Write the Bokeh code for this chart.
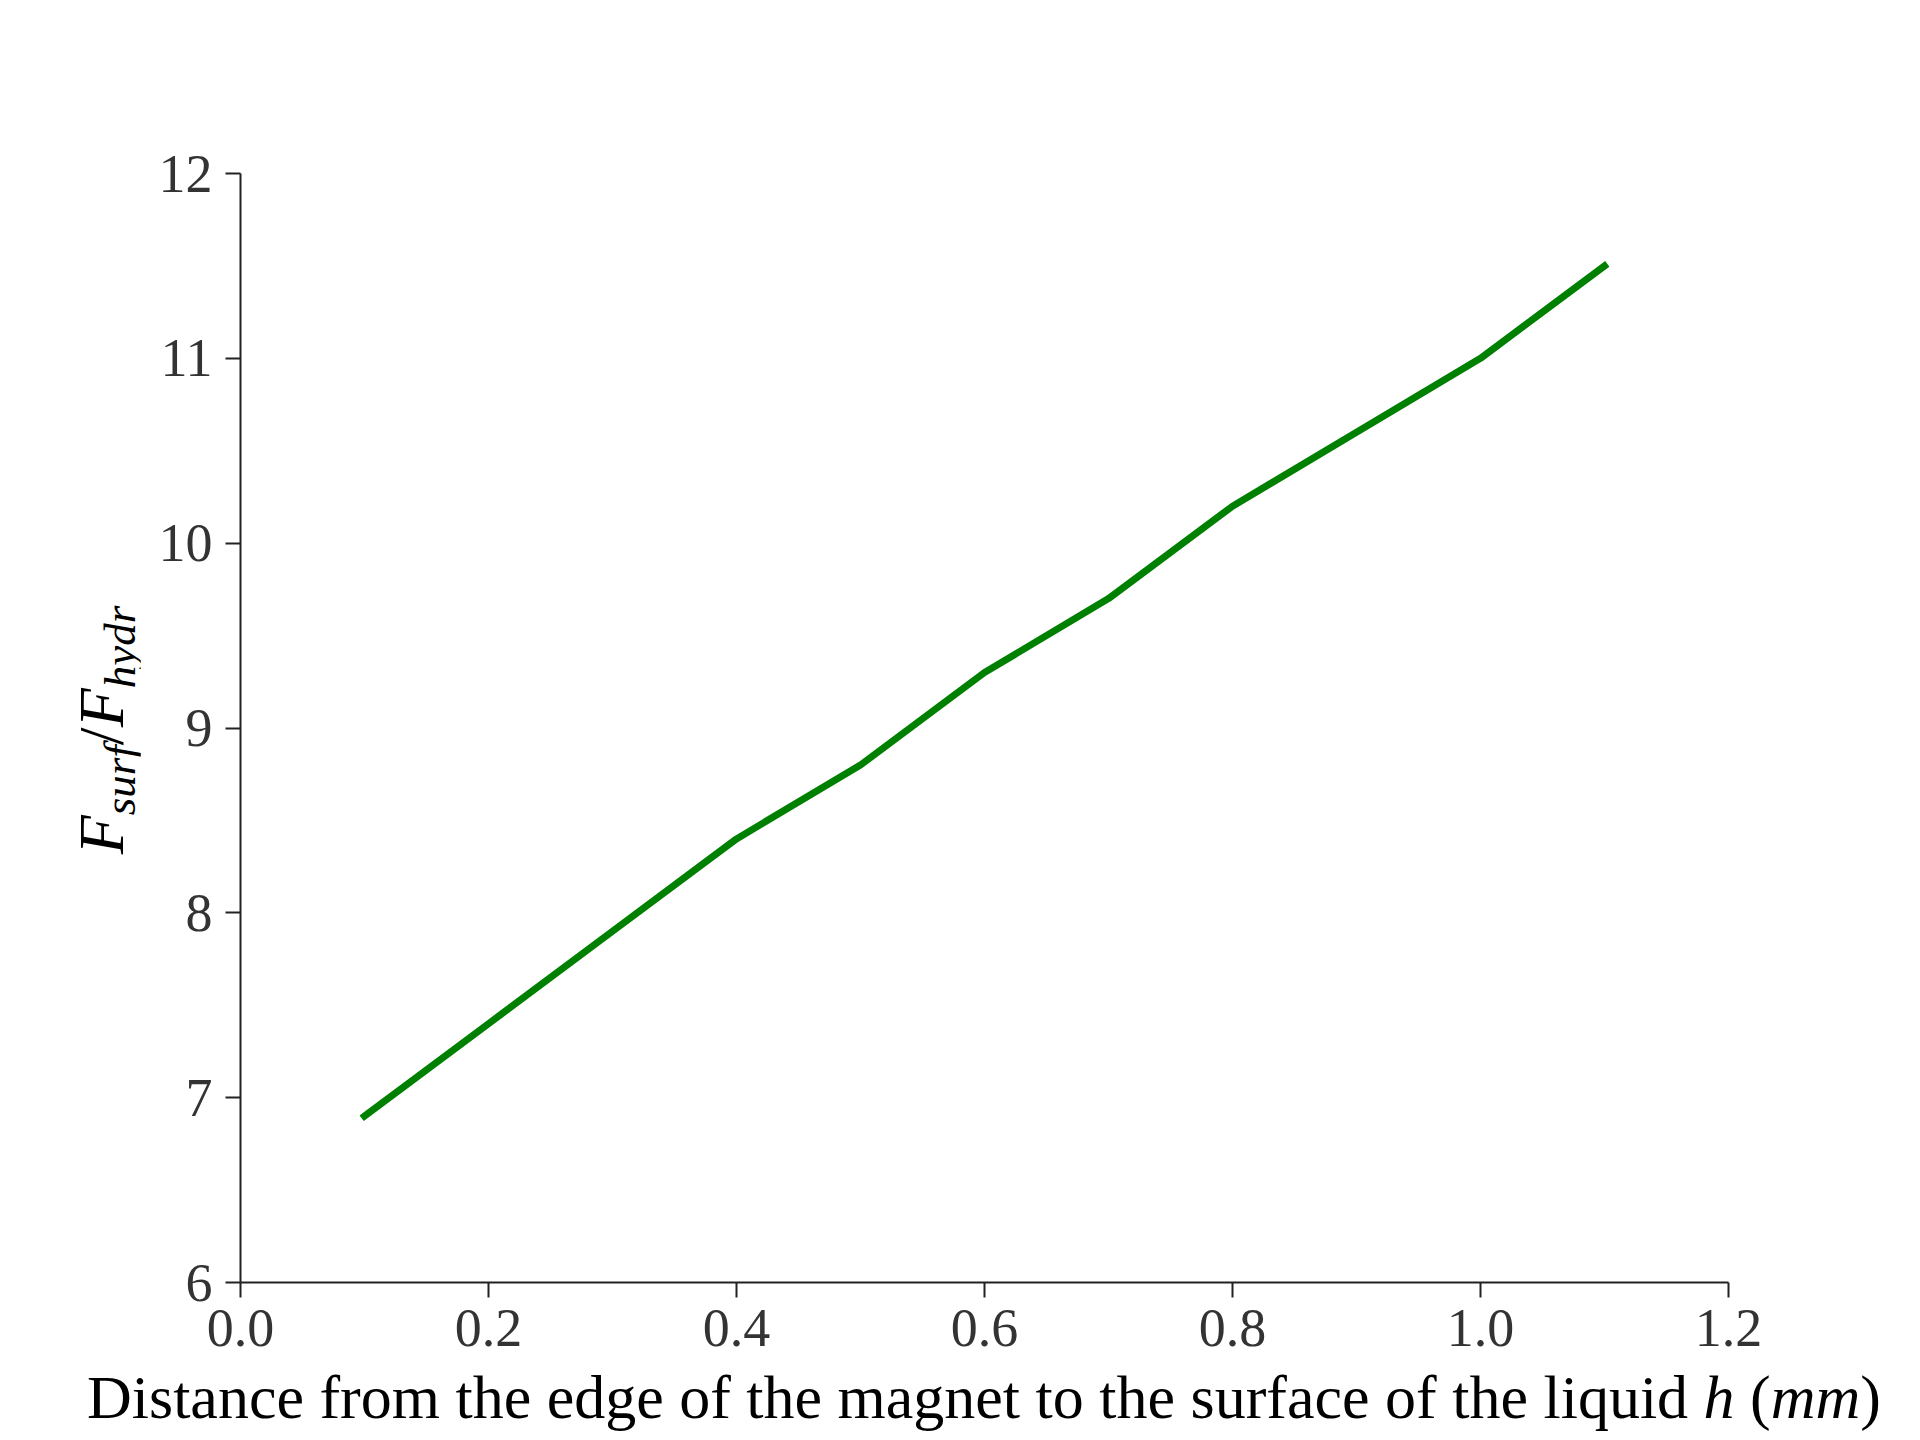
from bokeh.plotting import figure
from bokeh.models import Range1d, FixedTicker, Div
from bokeh.layouts import row, column
from bokeh.embed import file_html
from bokeh.resources import INLINE

# ---- data ----
h_mm = [0.1, 0.2, 0.3, 0.4, 0.5, 0.6, 0.7, 0.8, 0.9, 1.0, 1.1]
force_ratio = [6.9, 7.4, 7.9, 8.4, 8.8, 9.3, 9.7, 10.2, 10.6, 11.0, 11.5]
x_ticks = [0.0, 0.2, 0.4, 0.6, 0.8, 1.0, 1.2]
x_tick_labels = ["0.0", "0.2", "0.4", "0.6", "0.8", "1.0", "1.2"]
y_ticks = [6, 7, 8, 9, 10, 11, 12]
y_tick_labels = ["6", "7", "8", "9", "10", "11", "12"]
x_label_plain = "Distance from the edge of the magnet to the surface of the liquid"
x_label_var = "h"
x_label_unit = "mm"
y_label_parts = [("F", "surf"), ("F", "hydr")]

# ---- layout ----
FONT = "Liberation Serif"
YDIV_W = 140
FL, FR, FT, FB = 100, 180, 173, 90
FW, FH = 1488, 1109
FIG_W = FL + FW + FR
FIG_H = FT + FH + FB

p = figure(width=FIG_W, height=FIG_H, output_backend="svg", toolbar_location=None,
           x_range=Range1d(0.0, 1.2), y_range=Range1d(6.0, 12.0),
           min_border_left=FL, min_border_right=FR,
           min_border_top=FT, min_border_bottom=FB)
p.outline_line_color = None
p.grid.grid_line_color = None
p.background_fill_color = "white"
p.border_fill_color = "white"

p.line(h_mm, force_ratio, line_color="#008000", line_width=7, line_cap="square")

for ax, ticks, labels in ((p.xaxis, x_ticks, x_tick_labels), (p.yaxis, y_ticks, y_tick_labels)):
    ax.ticker = FixedTicker(ticks=ticks)
    ax.major_label_overrides = {t: l for t, l in zip(ticks, labels)}
    ax.axis_line_color = "#222222"
    ax.axis_line_width = 2
    ax.major_tick_line_color = "#222222"
    ax.major_tick_line_width = 2
    ax.major_tick_out = 15
    ax.major_tick_in = 0
    ax.minor_tick_line_color = None
    ax.major_label_text_font = FONT
    ax.major_label_text_font_size = "54px"
    ax.major_label_text_color = "#333333"
p.xaxis.major_label_standoff = 12
p.yaxis.major_label_standoff = 13

# ---- y label (rotated, mixed italic with subscripts) ----
sub_style = "font-size:45px;position:relative;top:12px;"
ytxt = "/".join(f"<i>{a}</i><span style='{sub_style}'><i>{b}</i></span>" for a, b in y_label_parts)
ydiv = Div(text=(
    f"<div style=\"position:relative;width:{YDIV_W}px;height:{FIG_H}px;\">"
    f"<div style=\"position:absolute;left:105px;top:730px;"
    f"transform:translate(-50%,-50%) rotate(-90deg);white-space:nowrap;"
    f"font-family:'{FONT}';font-size:64px;line-height:64px;color:#000;\">{ytxt}</div></div>"),
    width=YDIV_W, height=FIG_H, margin=0)

# ---- x label ----
row_w = YDIV_W + FIG_W
xdiv = Div(text=(
    f"<div style=\"position:relative;width:{row_w}px;height:60px;\">"
    f"<div style=\"position:absolute;left:{YDIV_W + FL + FW // 2}px;top:0px;"
    f"transform:translateX(-50%);white-space:nowrap;font-family:'{FONT}';"
    f"font-size:62px;line-height:50px;color:#000;\">"
    f"{x_label_plain} <i>{x_label_var}</i> (<i>{x_label_unit}</i>)</div></div>"),
    width=row_w, height=60, margin=0)

layout = column(row(ydiv, p, spacing=0), xdiv, spacing=0)
open("out.html", "w").write(file_html(layout, INLINE))
